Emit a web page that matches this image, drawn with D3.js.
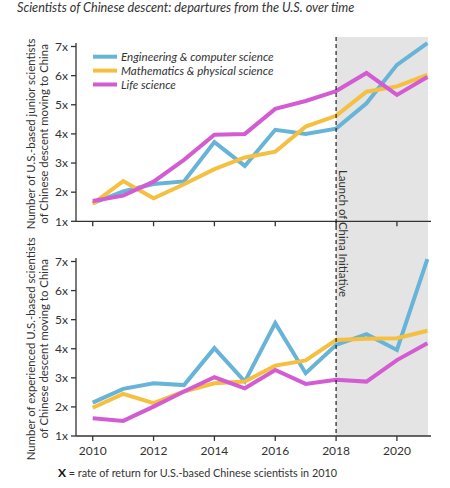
<!DOCTYPE html>
<html>
<head>
<meta charset="utf-8">
<script src="https://cdn.jsdelivr.net/npm/d3@7"></script>
<style>
  html, body { margin: 0; padding: 0; background: #fff; }
  svg { display: block; font-family: Lato, "Open Sans", sans-serif; }
  .tick-label { font-size: 12px; fill: #333; }
  .axis-title { font-size: 11.4px; fill: #333; }
</style>
</head>
<body>
<div id="chart"></div>
<script>
const years = [2010, 2011, 2012, 2013, 2014, 2015, 2016, 2017, 2018, 2019, 2020, 2021];
const yearTicks = [2010, 2012, 2014, 2016, 2018, 2020];
const multTicks = [1, 2, 3, 4, 5, 6, 7];

// junior scientists (top panel)
const juniorEng  = [1.62, 2.03, 2.28, 2.37, 3.72, 2.9, 4.14, 4.0, 4.18, 5.05, 6.37, 7.12];
const juniorMath = [1.6, 2.38, 1.79, 2.27, 2.79, 3.19, 3.39, 4.25, 4.62, 5.45, 5.63, 6.03];
const juniorLife = [1.7, 1.88, 2.36, 3.11, 3.97, 4.0, 4.86, 5.13, 5.47, 6.09, 5.34, 5.95];

// experienced scientists (bottom panel)
const seniorEng  = [2.15, 2.62, 2.81, 2.75, 4.02, 2.87, 4.88, 3.16, 4.13, 4.5, 3.96, 7.08];
const seniorMath = [1.97, 2.45, 2.13, 2.53, 2.81, 2.87, 3.42, 3.6, 4.3, 4.34, 4.36, 4.62];
const seniorLife = [1.61, 1.52, 2.01, 2.53, 3.02, 2.64, 3.27, 2.79, 2.93, 2.87, 3.61, 4.19];

const seriesNames = ["Engineering & computer science", "Mathematics & physical science", "Life science"];
const seriesColors = ["#67b4d8", "#f5bf3f", "#d45cd3"];

const initiativeYear = 2018;
const initiativeLabel = "Launch of China Initiative";

const width = 450;
const height = 488;

const x = d3.scaleLinear().domain([2009.45, 2021.12]).range([76, 431]);
const yTop = d3.scaleLinear().domain([1, 7]).range([221.3, 46.5]);
const yBottom = d3.scaleLinear().domain([1, 7]).range([436, 261.5]);

const svg = d3.select("#chart")
  .append("svg")
  .attr("width", width)
  .attr("height", height)
  .attr("viewBox", [0, 0, width, height]);

svg.append("text")
  .attr("x", 17)
  .attr("y", 12)
  .attr("font-size", 12.7)
  .attr("font-style", "italic")
  .attr("fill", "#333")
  .text("Scientists of Chinese descent: departures from the U.S. over time");

// shaded period after the initiative
svg.append("rect")
  .attr("x", x(initiativeYear))
  .attr("y", 37)
  .attr("width", x(2021) + 0.6 - x(initiativeYear))
  .attr("height", yBottom(1) - 37)
  .attr("fill", "#e4e4e4");

function drawPanel(y, seriesList, titleLines, showYears) {
  const g = svg.append("g");

  // y axis
  g.append("line")
    .attr("x1", x.range()[0]).attr("x2", x.range()[0])
    .attr("y1", y(1)).attr("y2", y(7.12))
    .attr("stroke", "#333").attr("stroke-width", 1.3);

  g.selectAll(".ytick")
    .data(multTicks)
    .join("line")
    .attr("x1", x.range()[0] - 5).attr("x2", x.range()[0])
    .attr("y1", d => y(d)).attr("y2", d => y(d))
    .attr("stroke", "#333").attr("stroke-width", 1.3);

  g.selectAll(".ylab")
    .data(multTicks)
    .join("text")
    .attr("class", "tick-label")
    .attr("x", x.range()[0] - 8)
    .attr("y", d => y(d))
    .attr("dy", "0.35em")
    .attr("text-anchor", "end")
    .text(d => `${d}x`);

  // x axis
  g.append("line")
    .attr("x1", x.range()[0]).attr("x2", x.range()[1])
    .attr("y1", y(1)).attr("y2", y(1))
    .attr("stroke", "#333").attr("stroke-width", 1.3);

  g.selectAll(".xtick")
    .data(yearTicks)
    .join("line")
    .attr("x1", d => x(d)).attr("x2", d => x(d))
    .attr("y1", y(1)).attr("y2", y(1) + 5)
    .attr("stroke", "#333").attr("stroke-width", 1.3);

  if (showYears) {
    g.selectAll(".xlab")
      .data(yearTicks)
      .join("text")
      .attr("class", "tick-label")
      .attr("x", d => x(d))
      .attr("y", y(1) + 19)
      .attr("text-anchor", "middle")
      .text(d => d);
  }

  // axis title, two rotated lines
  const midY = (y(1) + y(7)) / 2;
  titleLines.forEach((line, i) => {
    g.append("text")
      .attr("class", "axis-title")
      .attr("transform", `translate(${35 + i * 12.5},${midY}) rotate(-90)`)
      .attr("text-anchor", "middle")
      .text(line);
  });

  const linea = d3.line()
    .x((d, i) => x(years[i]))
    .y(d => y(d));

  g.selectAll(".serie")
    .data(seriesList)
    .join("path")
    .attr("d", d => linea(d))
    .attr("fill", "none")
    .attr("stroke", (d, i) => seriesColors[i])
    .attr("stroke-width", 4)
    .attr("stroke-linejoin", "miter");
}

drawPanel(yTop, [juniorEng, juniorMath, juniorLife],
  ["Number of U.S.-based junior scientists", "of Chinese descent moving to China"], false);
drawPanel(yBottom, [seniorEng, seniorMath, seniorLife],
  ["Number of experienced U.S.-based scientists", "of Chinese descent moving to China"], true);

// initiative marker
svg.append("line")
  .attr("x1", x(initiativeYear)).attr("x2", x(initiativeYear))
  .attr("y1", 37).attr("y2", yBottom(1))
  .attr("stroke", "#222")
  .attr("stroke-width", 1.2)
  .attr("stroke-dasharray", "4,3");

svg.append("text")
  .attr("class", "axis-title")
  .attr("transform", `translate(${x(initiativeYear) + 3},170) rotate(90)`)
  .text(initiativeLabel);

// legend
const legend = svg.append("g");
seriesNames.forEach((name, i) => {
  const ly = 56.7 + i * 13.9;
  legend.append("line")
    .attr("x1", 93).attr("x2", 117)
    .attr("y1", ly).attr("y2", ly)
    .attr("stroke", seriesColors[i])
    .attr("stroke-width", 4);
  legend.append("text")
    .attr("x", 121)
    .attr("y", ly)
    .attr("dy", "0.35em")
    .attr("font-size", 11.6)
    .attr("font-style", "italic")
    .attr("fill", "#333")
    .text(name);
});

// footnote
const nota = svg.append("text")
  .attr("x", 58)
  .attr("y", 477)
  .attr("font-size", 10.8)
  .attr("fill", "#333");
nota.append("tspan").attr("font-weight", "bold").attr("font-size", 12).attr("fill", "#111").text("X");
nota.append("tspan").text(" = rate of return for U.S.-based Chinese scientists in 2010");
</script>
</body>
</html>
